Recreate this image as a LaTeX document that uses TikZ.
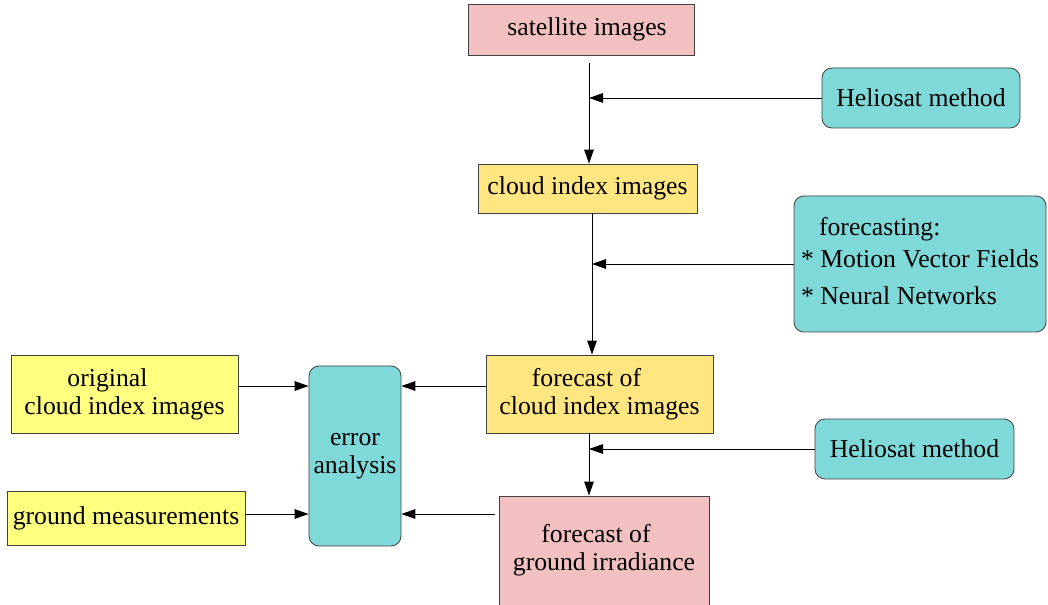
\documentclass[tikz,border=0pt]{standalone}
\usepackage{fontspec}
\setmainfont{Liberation Serif}
\usetikzlibrary{arrows.meta}

\definecolor{pinkfill}{RGB}{242,192,192}
\definecolor{cyanfill}{RGB}{128,217,217}
\definecolor{goldfill}{RGB}{255,230,128}
\definecolor{lemonfill}{RGB}{255,255,128}

\begin{document}
\begin{tikzpicture}[
	>= {Triangle[length=3.5mm, width=2.4mm]},
	box/.style = {draw = black!75, line width = 0.6 pt, inner sep = 0 pt, align = center, font = \fontsize{18.3}{20}\selectfont},
	pinkbox/.style = {box, fill = pinkfill},
	goldbox/.style = {box, fill = goldfill},
	lemonbox/.style = {box, fill = lemonfill},
	roundbox/.style = {box, fill = cyanfill, rounded corners = 0.25 cm},
	flow/.style = {line width = 0.7 pt, ->}
]
	 \useasboundingbox (0, 0) rectangle (26.2, 15.125);
	 
	 \node[pinkbox, minimum width = 5.65 cm, minimum height = 1.275 cm] (sat) at (14.525, 14.3875) {\hspace*{0.3 cm}satellite images};
	 \node[roundbox, minimum width = 4.95 cm, minimum height = 1.5 cm] (helio1) at (23.025, 12.675) {Heliosat method};
	 \node[goldbox, minimum width = 5.475 cm, minimum height = 1.225 cm] (cloud) at (14.6875, 10.4125) {cloud index images};
	 \node[roundbox, minimum width = 6.3 cm, minimum height = 3.4 cm, align = left] (fc) at (23, 8.525) {\raisebox{0.15 cm}{\begin{tabular}{@{}l@{}}\hspace*{0.45 cm}forecasting:\\[3 pt]* Motion Vector Fields\\[6 pt]* Neural Networks\end{tabular}}};
	 \node[lemonbox, minimum width = 5.675 cm, minimum height = 1.95 cm] (orig) at (3.1125, 5.275) {original\hspace*{0.85 cm}\\cloud index images};
	 \node[roundbox, minimum width = 2.3 cm, minimum height = 4.5 cm] (err) at (8.875, 3.725) {error\\analysis};
	 \node[goldbox, minimum width = 5.675 cm, minimum height = 1.95 cm] (fcloud) at (14.9875, 5.275) {forecast of\hspace*{0.65 cm}\\cloud index images};
	 \node[roundbox, minimum width = 4.975 cm, minimum height = 1.5 cm] (helio2) at (22.8625, 3.9) {Heliosat method};
	 \node[lemonbox, minimum width = 5.95 cm, minimum height = 1.35 cm] (gm) at (3.15, 2.175) {ground measurements};
	 \node[pinkbox, minimum width = 5.25 cm, minimum height = 2.725 cm] (irr) at (15.1, 1.3625) {forecast of\hspace*{0.4 cm}\\ground irradiance};
	 
	 \coordinate (j1) at (14.725, 12.625);
	 \coordinate (j2) at (14.8, 8.475);
	 \coordinate (j3) at (14.725, 3.95);
	 \coordinate (e1) at (8.875, 5.475);
	 \coordinate (e2) at (8.875, 2.275);
	 
	 \draw[flow] ([yshift = -0.18 cm]sat.south -| j1) -- (cloud.north -| j1);
	 \draw[flow] (helio1.west) -- (helio1.west -| j1);
	 \draw[flow] (cloud.south -| j2) -- (fcloud.north -| j2);
	 \draw[flow] (fc.west) -- (fc.west -| j2);
	 \draw[flow] (fcloud.south -| j3) -- (irr.north -| j3);
	 \draw[flow] (helio2.west) -- (helio2.west -| j3);
	 
	 \draw[flow] (orig.east |- e1) -- (err.west |- e1);
	 \draw[flow] (fcloud.west |- e1) -- (err.east |- e1);
	 \draw[flow] (gm.east |- e2) -- (err.west |- e2);
	 \draw[flow] ([xshift = -0.08 cm]irr.west |- e2) -- (err.east |- e2);
\end{tikzpicture}
\end{document}
